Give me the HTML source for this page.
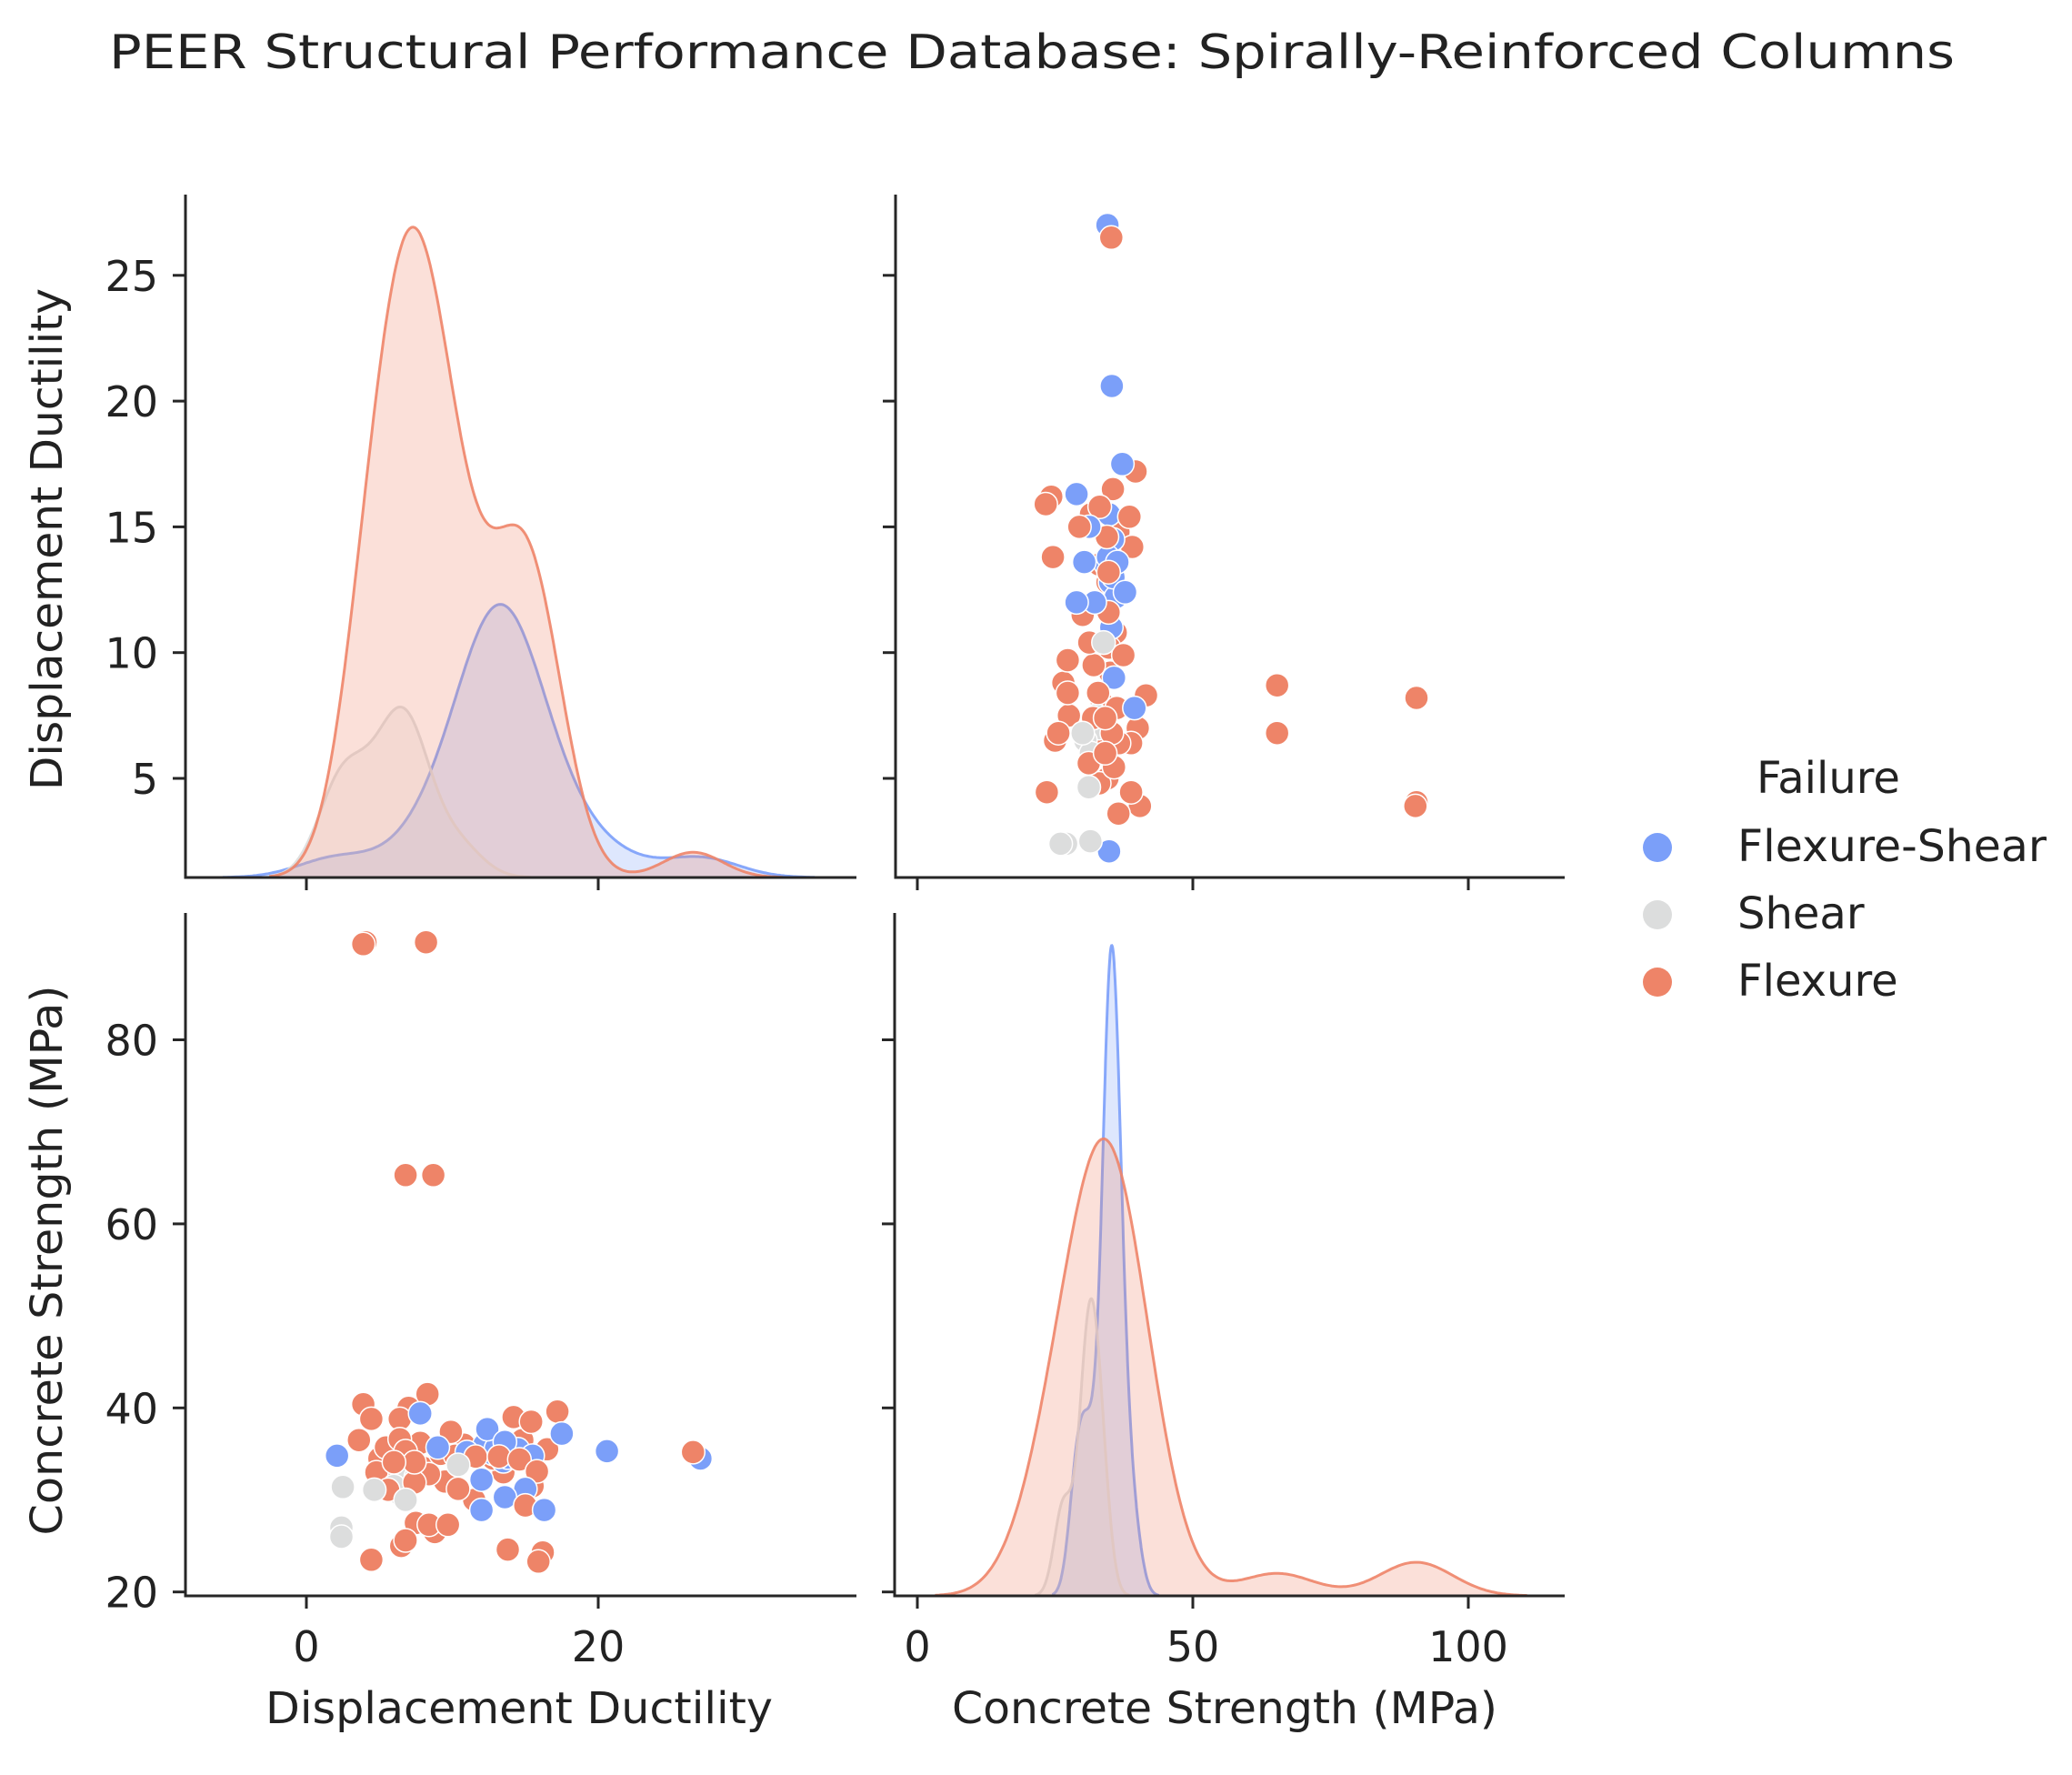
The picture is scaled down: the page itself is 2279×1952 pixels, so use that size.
<!DOCTYPE html>
<html><head><meta charset="utf-8"><style>
html,body{margin:0;padding:0;background:#fff;}
svg{display:block;font-family:"DejaVu Sans","Liberation Sans",sans-serif;}
</style></head><body>
<svg id="chart" width="2279" height="1952" viewBox="0 0 2279 1952" xmlns="http://www.w3.org/2000/svg">
<rect width="2279" height="1952" fill="#fff"/>
<text x="1135" y="75" font-size="52" text-anchor="middle" fill="#222" textLength="2030" lengthAdjust="spacingAndGlyphs">PEER Structural Performance Database: Spirally-Reinforced Columns</text>
<g id="plots"></g>
<text x="571" y="1895" font-size="48" text-anchor="middle" fill="#222" textLength="558" lengthAdjust="spacingAndGlyphs">Displacement Ductility</text>
<text x="1347" y="1895" font-size="48" text-anchor="middle" fill="#222" textLength="600" lengthAdjust="spacingAndGlyphs">Concrete Strength (MPa)</text>
<text transform="translate(68,593) rotate(-90)" font-size="48" text-anchor="middle" fill="#222" textLength="552" lengthAdjust="spacingAndGlyphs">Displacement Ductility</text>
<text transform="translate(68,1386) rotate(-90)" font-size="48" text-anchor="middle" fill="#222" textLength="605" lengthAdjust="spacingAndGlyphs">Concrete Strength (MPa)</text>
<g>
<text x="2011" y="872" font-size="48" text-anchor="middle" fill="#222">Failure</text>
<circle cx="1823" cy="932" r="16" fill="#7b9ff9"/>
<text x="1911" y="947" font-size="48" fill="#222" textLength="340" lengthAdjust="spacingAndGlyphs">Flexure-Shear</text>
<circle cx="1823" cy="1006" r="16" fill="#dcdddd"/>
<text x="1911" y="1021" font-size="48" fill="#222">Shear</text>
<circle cx="1823" cy="1080" r="16" fill="#ee8468"/>
<text x="1911" y="1095" font-size="48" fill="#222">Flexure</text>
</g>
</svg>
<script>
// data: displacement ductility, concrete strength (MPa), failure class (0 Flexure-Shear, 1 Shear, 2 Flexure)
const ductility = [7.5,8.0,6.2,9.2,10.8,5.0,7.0,11.5,13.5,14.8,16.5,15.5,8.8,6.5,12.8,9.5,4.8,14.2,10.2,7.8, 12.8,13.5,14.5,12.2,15.5,11.0,13.0,13.8, 7.0,6.5,6.0,7.5,
  27.0,4.05,8.2,3.9,6.8,8.7,3.9,8.3,4.45,6.4,7.8,9.9,3.6,2.1,5.45,6.4,6.8,9.0,12.4,13.6,11.6,13.2,14.6,15.4,17.2,17.5,20.6,26.5,15.8,12.0,15.0,10.4,8.4,7.4,5.6,2.5,4.65,6.8,10.4,13.6,12.0,15.0,16.3,8.4,9.7,2.4,6.8,4.45,13.8,16.2,15.9,7.4,6.0,2.4];
const strength  = [27.5,33.5,32.5,35.0,36.0,34.5,40.0,30.0,33.0,36.5,35.5,31.5,26.5,25.0,34.5,32.0,33.0,39.0,34.8,36.2, 35.0,34.2,35.5,36.0,34.8,35.2,35.6,34.6, 33.0,30.5,31.5,32.5,
  34.5,90.6,90.6,90.4,65.3,65.3,40.4,41.5,38.8,38.8,39.4,37.4,36.5,34.8,35.7,36.6,35.3,35.7,37.7,36.3,34.7,34.7,34.4,38.5,39.6,37.2,35.3,35.2,33.1,32.2,31.2,31.2,32.8,31.9,31.1,31.4,31.1,30.0,33.8,30.3,28.9,29.4,28.9,27.3,27.3,27.0,25.6,23.5,24.6,24.3,23.3,34.1,34.1,26.0];
const failure   = [2,2,2,2,2,2,2,2,2,2,2,2,2,2,2,2,2,2,2,2, 0,0,0,0,0,0,0,0, 1,1,1,1,
  0,2,2,2,2,2,2,2,2,2,0,2,2,0,2,2,2,0,0,0,2,2,2,2,2,0,0,2,2,0,0,2,2,2,2,1,1,1,1,0,0,2,0,2,2,1,2,2,2,2,2,2,2,1];
const classNames = ["Flexure-Shear","Shear","Flexure"];
const classColors = ["#7b9ff9","#dcdddd","#ee8468"];
const ductTicks = [5,10,15,20,25];
const ductXTicks = [0,20];
const strYTicks = [20,40,60,80];
const strXTicks = [0,50,100];

const NS="http://www.w3.org/2000/svg";
const root=document.getElementById('plots');
function mk(tag,attrs,parent){const e=document.createElementNS(NS,tag);for(const k in attrs)e.setAttribute(k,attrs[k]);(parent||root).appendChild(e);return e;}

const xDuct=v=>337+v*16.05;
const xStr =v=>1009+v*6.06;
const yDuct=v=>856-(v-5)*27.66;
const yStr =v=>1750.7-(v-20)*10.12;
const panels={
 tl:{x0:204,x1:942,y0:214,y1:965},
 tr:{x0:985,x1:1721,y0:214,y1:965},
 bl:{x0:204,x1:942,y0:1004,y1:1755},
 br:{x0:984,x1:1721,y0:1004,y1:1755}
};

function kde(vals){
  const n=vals.length;const m=vals.reduce((a,b)=>a+b,0)/n;
  const sd=Math.sqrt(vals.reduce((a,b)=>a+(b-m)*(b-m),0)/(n-1));
  const bw=sd*Math.pow(n,-0.2);
  return {bw,f:x=>vals.reduce((a,v)=>a+Math.exp(-0.5*((x-v)/bw)**2),0)/(n*bw*Math.sqrt(2*Math.PI))};
}
function drawDiag(p,values,xf,name){
  const N=values.length;const curves=[];let maxD=0;
  for(let c=0;c<3;c++){
    const vals=values.filter((v,i)=>failure[i]===c);
    if(vals.length<2){curves.push(null);continue;}
    const k=kde(vals);
    const lo=Math.min(...vals)-3*k.bw,hi=Math.max(...vals)+3*k.bw;
    const pts=[];
    for(let i=0;i<=300;i++){const x=lo+(hi-lo)*i/300;const d=k.f(x)*vals.length/N;pts.push([x,d]);if(d>maxD)maxD=d;}
    curves.push(pts);
  }
  const top=maxD*1.05;
  const yf=d=>p.y1-(d/top)*(p.y1-p.y0);
  const g=mk('g',{});
  
  
  curves.forEach((pts,c)=>{
    if(!pts)return;
    const line=pts.map(([x,d],i)=>(i?'L':'M')+xf(x).toFixed(1)+','+yf(d).toFixed(1)).join(' ');
    const fill=mk('path',{d:line+' L'+xf(pts[pts.length-1][0]).toFixed(1)+','+p.y1+' L'+xf(pts[0][0]).toFixed(1)+','+p.y1+' Z',fill:classColors[c],'fill-opacity':0.25,stroke:'none'},g);
    
    
    const ln=mk('path',{d:line,fill:'none',stroke:classColors[c],'stroke-width':3,'stroke-opacity':0.9},g);
    
    
  });
}
function drawScatter(p,xs,ys,xf,yf,name){
  const g=mk('g',{});
  
  
  xs.forEach((v,i)=>{
    const c=mk('circle',{cx:xf(v).toFixed(1),cy:yf(ys[i]).toFixed(1),r:13,fill:classColors[failure[i]],stroke:'#fff','stroke-width':1.5},g);
    
    
  });
}
function drawAxes(p,xt,xf,yt,yf,labelX,labelY,name){
  const g=mk('g',{stroke:'#262626','stroke-width':3,fill:'none'});
  
  
  mk('path',{d:`M${p.x0},${p.y0} L${p.x0},${p.y1} L${p.x1},${p.y1}`},g);
  xt.forEach(v=>{
    mk('line',{x1:xf(v),x2:xf(v),y1:p.y1,y2:p.y1+14},g);
    if(labelX){const t=mk('text',{x:xf(v),y:p.y1+72,'font-size':46,'text-anchor':'middle',fill:'#222',stroke:'none'},g);t.textContent=v;
      
      }
  });
  yt.forEach(v=>{
    mk('line',{x1:p.x0-14,x2:p.x0,y1:yf(v),y2:yf(v)},g);
    if(labelY){const t=mk('text',{x:p.x0-30,y:yf(v)+17,'font-size':46,'text-anchor':'end',fill:'#222',stroke:'none'},g);t.textContent=v;
      
      }
  });
}
drawDiag(panels.tl,ductility,xDuct,'kde-ductility');
drawScatter(panels.tr,strength,ductility,xStr,yDuct,'scatter-strength-vs-ductility');
drawScatter(panels.bl,ductility,strength,xDuct,yStr,'scatter-ductility-vs-strength');
drawDiag(panels.br,strength,xStr,'kde-strength');
drawAxes(panels.tl,ductXTicks,xDuct,ductTicks,yDuct,false,true,'axes-top-left');
drawAxes(panels.tr,strXTicks,xStr,ductTicks,yDuct,false,false,'axes-top-right');
drawAxes(panels.bl,ductXTicks,xDuct,strYTicks,yStr,true,true,'axes-bottom-left');
drawAxes(panels.br,strXTicks,xStr,strYTicks,yStr,true,false,'axes-bottom-right');
</script>
</body></html>
